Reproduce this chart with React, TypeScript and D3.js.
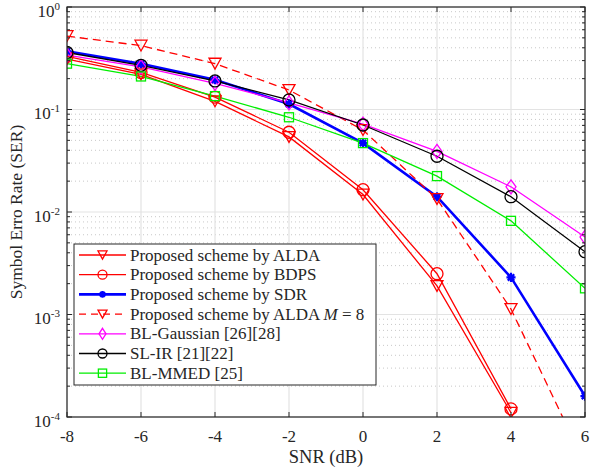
import React from "react";
import * as d3 from "d3";

const snr = [-8, -6, -4, -2, 0, 2, 4, 6];
const aldaSER = [0.31, 0.22, 0.12, 0.054, 0.0148, 0.0019, 1.1e-4];
const bdpsSER = [0.33, 0.23, 0.132, 0.06, 0.0165, 0.0025, 1.2e-4];
const sdrSER = [0.37, 0.28, 0.195, 0.113, 0.047, 0.0141, 0.0023, 1.6e-4];
const alda8SER = [0.52, 0.42, 0.28, 0.155, 0.063, 0.0134, 0.00113, 3.5e-5];
const gaussSER = [0.34, 0.26, 0.18, 0.116, 0.072, 0.039, 0.0176, 0.0057];
const slirSER = [0.36, 0.27, 0.19, 0.124, 0.0706, 0.035, 0.0141, 0.0041];
const mmedSER = [0.28, 0.21, 0.135, 0.084, 0.047, 0.0224, 0.0082, 0.0018];

const xTicks = [-8, -6, -4, -2, 0, 2, 4, 6];
const yDecades = [0, -1, -2, -3, -4];

type Series = {
  name: string;
  values: number[];
  color: string;
  marker: "tri" | "circle" | "star" | "diamond" | "square";
  width: number;
  dash?: string;
  math?: boolean;
};

const series: Series[] = [
  { name: "Proposed scheme by ALDA", values: aldaSER, color: "#ff0000", marker: "tri", width: 1.3 },
  { name: "Proposed scheme by BDPS", values: bdpsSER, color: "#ff0000", marker: "circle", width: 1.3 },
  { name: "Proposed scheme by SDR", values: sdrSER, color: "#0000ff", marker: "star", width: 2.6 },
  { name: "Proposed scheme by ALDA ", values: alda8SER, color: "#ff0000", marker: "tri", width: 1.3, dash: "8,5", math: true },
  { name: "BL-Gaussian [26][28]", values: gaussSER, color: "#ff00ff", marker: "diamond", width: 1.3 },
  { name: "SL-IR [21][22]", values: slirSER, color: "#000000", marker: "circle", width: 1.3 },
  { name: "BL-MMED [25]", values: mmedSER, color: "#00ee00", marker: "square", width: 1.3 },
];

const L = 67, R = 585, T = 7, B = 417;

function Marker({ kind, x, y, color, s }: { kind: string; x: number; y: number; color: string; s: number }) {
  const sw = 1.3;
  if (kind === "tri") {
    const h = s * 0.9;
    return <path d={`M${x - s / 2},${y - h / 2}L${x + s / 2},${y - h / 2}L${x},${y + h / 2}Z`} fill="none" stroke={color} strokeWidth={sw} />;
  }
  if (kind === "circle") return <circle cx={x} cy={y} r={s / 2} fill="none" stroke={color} strokeWidth={sw} />;
  if (kind === "diamond")
    return <path d={`M${x},${y - s / 2 - 1}L${x + s / 2 - 1},${y}L${x},${y + s / 2 + 1}L${x - s / 2 + 1},${y}Z`} fill="none" stroke={color} strokeWidth={sw} />;
  if (kind === "square") {
    const a = s * 0.75;
    return <rect x={x - a / 2} y={y - a / 2} width={a} height={a} fill="none" stroke={color} strokeWidth={sw} />;
  }
  const r = s * 0.38;
  const lines = [0, 45, 90, 135].map((ang) => {
    const rad = (ang * Math.PI) / 180;
    return `M${x - r * Math.cos(rad)},${y - r * Math.sin(rad)}L${x + r * Math.cos(rad)},${y + r * Math.sin(rad)}`;
  });
  return <path d={lines.join("")} stroke={color} strokeWidth={2.2} fill="none" />;
}

export default function App() {
  const x = d3.scaleLinear().domain([-8, 6]).range([L, R]);
  const y = d3.scaleLog().domain([1e-4, 1]).range([B, T]);
  const line = d3
    .line<[number, number]>()
    .x((d) => x(d[0]))
    .y((d) => y(d[1]));

  const minor: number[] = [];
  for (let e = -4; e < 0; e++) for (let m = 2; m <= 9; m++) minor.push(m * Math.pow(10, e));

  const font = "'Liberation Serif', 'DejaVu Serif', serif";
  const axisColor = "#262626";

  const legX = 74, legY = 244, legW = 302, legH = 141, rowH = 19.7;

  return (
    <svg width={590} height={471} style={{ position: "absolute", left: 0, top: 0 }} fontFamily={font}>
      <rect x={0} y={0} width={590} height={471} fill="#fff" />
      <defs>
        <clipPath id="plot">
          <rect x={L} y={T} width={R - L} height={B - T} />
        </clipPath>
      </defs>
      {minor.map((v) => (
        <line key={"mg" + v} x1={L} x2={R} y1={y(v)} y2={y(v)} stroke="#c8c8c8" strokeWidth={1} strokeDasharray="1,3" />
      ))}
      {yDecades.map((e) => (
        <line key={"Mg" + e} x1={L} x2={R} y1={y(Math.pow(10, e))} y2={y(Math.pow(10, e))} stroke="#e3e3e3" strokeWidth={1.2} />
      ))}
      {xTicks.map((t) => (
        <line key={"xg" + t} x1={x(t)} x2={x(t)} y1={T} y2={B} stroke="#e3e3e3" strokeWidth={1.2} />
      ))}
      <g clipPath="url(#plot)">
        {series.map((s, i) => {
          const pts = s.values.map((v, j) => [snr[j], v] as [number, number]);
          return (
            <path key={"l" + i} d={line(pts) || ""} fill="none" stroke={s.color} strokeWidth={s.width} strokeDasharray={s.dash} />
          );
        })}
        {series.map((s, i) =>
          s.values.map((v, j) =>
            v >= 1e-4 ? <Marker key={`m${i}-${j}`} kind={s.marker} x={x(snr[j])} y={y(v)} color={s.color} s={12} /> : null
          )
        )}
      </g>
      <rect x={L} y={T} width={R - L} height={B - T} fill="none" stroke={axisColor} strokeWidth={1.2} />
      {xTicks.map((t) => (
        <g key={"xt" + t}>
          <line x1={x(t)} x2={x(t)} y1={B} y2={B - 5} stroke={axisColor} />
          <line x1={x(t)} x2={x(t)} y1={T} y2={T + 5} stroke={axisColor} />
          <text x={x(t)} y={B + 25} textAnchor="middle" fontSize={17} fill={axisColor}>
            {t}
          </text>
        </g>
      ))}
      {yDecades.map((e) => (
        <g key={"yt" + e}>
          <line x1={L} x2={L + 5} y1={y(Math.pow(10, e))} y2={y(Math.pow(10, e))} stroke={axisColor} />
          <line x1={R} x2={R - 5} y1={y(Math.pow(10, e))} y2={y(Math.pow(10, e))} stroke={axisColor} />
          <text x={L - 7} y={y(Math.pow(10, e)) + 9.5} textAnchor="end" fontSize={17} fill={axisColor}>
            10
            <tspan dy={-7} fontSize={11}>
              {String(e)}
            </tspan>
          </text>
        </g>
      ))}
      {minor.map((v) => (
        <g key={"mt" + v}>
          <line x1={L} x2={L + 3} y1={y(v)} y2={y(v)} stroke={axisColor} />
          <line x1={R} x2={R - 3} y1={y(v)} y2={y(v)} stroke={axisColor} />
        </g>
      ))}
      <text x={326} y={463} textAnchor="middle" fontSize={18.5} fill={axisColor}>
        SNR (dB)
      </text>
      <text transform={`translate(22,${(T + B) / 2}) rotate(-90)`} textAnchor="middle" fontSize={17.5} fill={axisColor}>
        Symbol Erro Rate (SER)
      </text>
      <rect x={legX} y={legY} width={legW} height={legH} fill="#fff" stroke={axisColor} strokeWidth={1} />
      {series.map((s, i) => {
        const cy = legY + 11 + i * rowH;
        return (
          <g key={"lg" + i}>
            <line x1={79} x2={126} y1={cy} y2={cy} stroke={s.color} strokeWidth={s.width} strokeDasharray={s.dash ? "7,5" : undefined} />
            <Marker kind={s.marker} x={102.5} y={cy} color={s.color} s={s.marker === "square" ? 11 : 9} />
            <text x={130} y={cy + 5.5} fontSize={17} fill={axisColor}>
              {s.name}
              {s.math ? (
                <>
                  <tspan fontStyle="italic">M</tspan>
                  <tspan> = 8</tspan>
                </>
              ) : null}
            </text>
          </g>
        );
      })}
    </svg>
  );
}
